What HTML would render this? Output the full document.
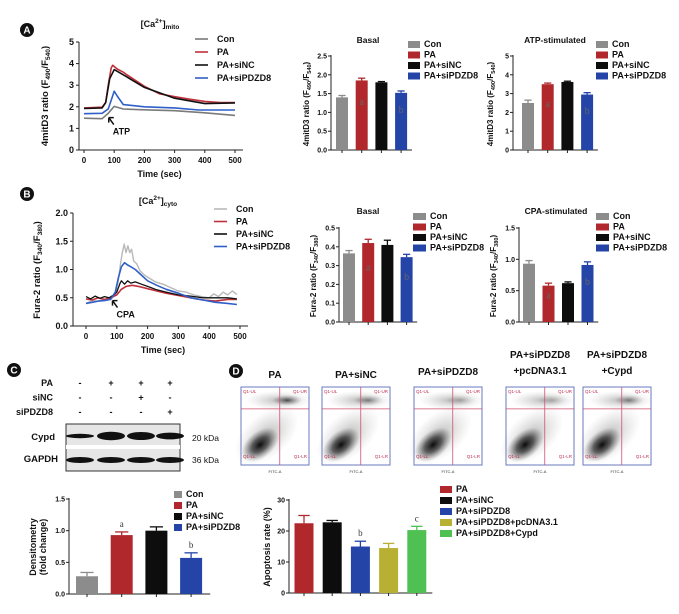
<!DOCTYPE html>
<html><head><meta charset="utf-8"><style>
html,body{margin:0;padding:0;background:#fff;}
svg{display:block;font-family:"Liberation Sans",Arial,sans-serif;}
</style></head><body>
<svg id="fig" width="679" height="614" viewBox="0 0 679 614" xmlns="http://www.w3.org/2000/svg">
<defs>
<radialGradient id="dens" cx="50%" cy="50%" r="50%"><stop offset="0" stop-color="#000" stop-opacity="0.95"/><stop offset="0.45" stop-color="#222" stop-opacity="0.7"/><stop offset="1" stop-color="#666" stop-opacity="0"/></radialGradient>
<radialGradient id="dens2" cx="50%" cy="50%" r="50%"><stop offset="0" stop-color="#111" stop-opacity="0.8"/><stop offset="1" stop-color="#777" stop-opacity="0"/></radialGradient>
<radialGradient id="dens3" cx="50%" cy="50%" r="50%"><stop offset="0" stop-color="#777" stop-opacity="0.5"/><stop offset="1" stop-color="#aaa" stop-opacity="0"/></radialGradient>
</defs>
</svg>
<script>
// ---------- data ----------
var groups4 = ['Con','PA','PA+siNC','PA+siPDZD8'];
var groups5 = ['PA','PA+siNC','PA+siPDZD8','PA+siPDZD8+pcDNA3.1','PA+siPDZD8+Cypd'];
var mitoBasal = [1.40,1.85,1.80,1.52];
var mitoBasalErr = [0.05,0.06,0.02,0.05];
var mitoAtp = [2.50,3.50,3.62,2.95];
var mitoAtpErr = [0.15,0.06,0.04,0.10];
var cytoBasal = [0.365,0.42,0.41,0.345];
var cytoBasalErr = [0.015,0.02,0.025,0.015];
var cytoCpa = [0.93,0.58,0.62,0.91];
var cytoCpaErr = [0.05,0.04,0.02,0.05];
var densValues = [0.28,0.93,1.00,0.57];
var densErr = [0.06,0.05,0.06,0.08];
var apopValues = [22.5,22.8,15.0,14.5,20.3];
var apopErr = [2.5,0.6,1.7,1.5,1.2];
var timeTicks = [0,100,200,300,400,500];
var mitoTicks = [0,1,2,3,4,5];
var cytoTicks = [0.0,0.5,1.0,1.5,2.0];
var mitoConT=[0,60,80,100,130,200,300,400,500];
var mitoConV=[1.47,1.45,1.7,2.02,1.9,1.86,1.82,1.72,1.6];
var mitoPaT=[0,60,72,80,90,95,110,130,140,200,250,300,350,400,450,500];
var mitoPaV=[1.95,1.98,2.2,3.0,3.8,3.92,3.75,3.6,3.5,2.95,2.6,2.47,2.35,2.25,2.2,2.2];
var mitoNcT=[0,60,72,85,100,140,200,300,400,500];
var mitoNcV=[1.92,1.95,2.2,3.3,3.72,3.4,2.9,2.4,2.15,2.18];
var mitoPdT=[0,60,80,90,100,110,130,200,300,380,500];
var mitoPdV=[1.68,1.7,1.9,2.3,2.72,2.5,2.1,2.0,1.95,1.85,1.85];
var cytoConT=[0,20,40,60,80,95,105,112,118,124,130,136,142,148,155,165,175,190,205,225,250,275,300,325,350,375,400,415,430,445,460,475,490];
var cytoConV=[0.40,0.45,0.44,0.47,0.47,0.55,0.8,1.1,1.3,1.45,1.3,1.42,1.3,1.36,1.15,1.1,0.98,0.9,0.85,0.78,0.74,0.68,0.62,0.6,0.55,0.52,0.50,0.57,0.52,0.6,0.55,0.62,0.56];
var cytoPaT=[0,20,40,60,80,100,115,130,150,170,200,230,260,300,340,380,420,460,490];
var cytoPaV=[0.48,0.46,0.50,0.47,0.50,0.55,0.65,0.70,0.72,0.70,0.66,0.62,0.58,0.54,0.5,0.46,0.44,0.47,0.47];
var cytoNcT=[0,15,30,45,60,75,90,100,110,115,125,135,145,160,180,200,230,260,300,340,380,420,460,490];
var cytoNcV=[0.52,0.48,0.53,0.49,0.52,0.5,0.55,0.6,0.75,0.8,0.74,0.8,0.76,0.78,0.74,0.7,0.64,0.6,0.55,0.53,0.5,0.5,0.5,0.48];
var cytoPdT=[0,20,40,60,80,95,105,115,125,135,145,160,180,200,230,260,300,340,380,420,460,490];
var cytoPdV=[0.40,0.42,0.44,0.45,0.47,0.6,0.85,1.05,1.12,1.08,1.05,1.0,0.9,0.8,0.72,0.65,0.58,0.5,0.46,0.42,0.4,0.38];
var colors4 = ['#8c8c8c','#b0282c','#0d0d0d','#2444a8'];
var colors5 = ['#b0282c','#0d0d0d','#2444a8','#b8b032','#4fc052'];

var svg = document.getElementById('fig');
var NS = 'http://www.w3.org/2000/svg';
function mk(tag, attrs, parent){
  var e = document.createElementNS(NS, tag);
  for (var k in attrs) e.setAttribute(k, attrs[k]);
  (parent||svg).appendChild(e);
  return e;
}
function txt(x,y,s,size,anchor,parent,weight,color){
  var t = mk('text',{x:x,y:y,'font-size':size,'text-anchor':anchor||'middle','font-weight':weight||'bold',fill:color||'#111'},parent);
  t.textContent = s;
  return t;
}
function panelBadge(x,y,letter){
  var g = mk('g',{});
  
  
  mk('circle',{cx:x,cy:y,r:7,fill:'#111'},g);
  txt(x,y+3.5,letter,10,'middle',g,'bold','#fff');
}

// ---------- bar chart ----------
function barChart(cfg){
  var g = mk('g',{});
  
  
  var ys = function(v){return cfg.y0 - v/cfg.max*(cfg.y0-cfg.yTop);};
  var xr = cfg.first + (cfg.values.length-1)*cfg.step + cfg.step*0.55;
  mk('line',{x1:cfg.ax,y1:cfg.yTop-1,x2:cfg.ax,y2:cfg.y0,stroke:'#222','stroke-width':1},g);
  mk('line',{x1:cfg.ax,y1:cfg.y0,x2:xr,y2:cfg.y0,stroke:'#222','stroke-width':1},g);
  cfg.ticks.forEach(function(t){
    mk('line',{x1:cfg.ax-3,y1:ys(t),x2:cfg.ax,y2:ys(t),stroke:'#222'},g);
    var l = txt(cfg.ax-4,ys(t)+2.5,cfg.tickFmt(t),7,'end',g);
    
  });
  cfg.values.forEach(function(v,i){
    var cx = cfg.first + i*cfg.step;
    mk('line',{x1:cx,y1:cfg.y0,x2:cx,y2:cfg.y0+3,stroke:'#222'},g);
    var eTop = ys(v+cfg.errs[i]);
    var eb = mk('g',{},g);
    
    mk('line',{x1:cx,y1:ys(v),x2:cx,y2:eTop,stroke:cfg.colors[i],'stroke-width':1.3},eb);
    mk('line',{x1:cx-cfg.w*0.3,y1:eTop,x2:cx+cfg.w*0.3,y2:eTop,stroke:cfg.colors[i],'stroke-width':1.3},eb);
    var r = mk('rect',{x:cx-cfg.w/2,y:ys(v),width:cfg.w,height:cfg.y0-ys(v),fill:cfg.colors[i]},g);
    
    
    if (cfg.letters && cfg.letters[i]) {
      var inside = cfg.letterInside;
      var lt = mk('text',{x:cx,y:inside? ys(v)+ (cfg.y0-ys(v))*0.35 : eTop-5,'font-size':inside?10:9,'text-anchor':'middle','font-family':'Liberation Serif, serif',fill:inside?'#666':'#333'},g);
      lt.textContent = cfg.letters[i];
      
    }
  });
  if (cfg.title){ var tt = txt(cfg.titleX,cfg.titleY,cfg.title,8.5,'middle',g);  }
  if (cfg.ylabel) cfg.ylabel(g);
  var lg = mk('g',{},g);
  
  cfg.labels.forEach(function(lab,i){
    var y = cfg.legY + i*cfg.legStep;
    var e = mk('g',{},lg);
    
    
    mk('rect',{x:cfg.legX,y:y-6,width:cfg.legSq,height:7,fill:cfg.colors[i]},e);
    txt(cfg.legX+cfg.legSq+4,y,lab,cfg.legFont||9,'start',e);
  });
}

// ---------- line chart ----------
function lineChart(cfg){
  var g = mk('g',{});
  
  
  var xs = function(t){return cfg.x0 + t/500*(cfg.x5-cfg.x0);};
  var ys = function(v){return cfg.y0 - v/cfg.max*(cfg.y0-cfg.yTop);};
  mk('line',{x1:cfg.ax,y1:cfg.yTop,x2:cfg.ax,y2:cfg.y0,stroke:'#222'},g);
  mk('line',{x1:cfg.ax,y1:cfg.y0,x2:cfg.x5+8,y2:cfg.y0,stroke:'#222'},g);
  cfg.yticks.forEach(function(t){
    mk('line',{x1:cfg.ax-3,y1:ys(t),x2:cfg.ax,y2:ys(t),stroke:'#222'},g);
    var l = txt(cfg.ax-5,ys(t)+3,cfg.fmt(t),9,'end',g);
    
  });
  timeTicks.forEach(function(t){
    mk('line',{x1:xs(t),y1:cfg.y0,x2:xs(t),y2:cfg.y0+3,stroke:'#222'},g);
    var l = txt(xs(t),cfg.y0+13,String(t),8,'middle',g);
    
  });
  var xt = txt((cfg.x0+cfg.x5)/2,cfg.y0+27,'Time (sec)',9,'middle',g);
  
  cfg.series.forEach(function(s){
    var d = s.t.map(function(t,i){return (i?'L':'M')+xs(t).toFixed(1)+','+ys(s.v[i]).toFixed(1);}).join('');
    var p = mk('path',{d:d,fill:'none',stroke:s.c,'stroke-width':s.w||1.6,'stroke-linejoin':'round'},g);
    
    
  });
  var ag = mk('g',{},g);
  
  var ax = xs(cfg.arrowT), ay = ys(cfg.arrowV);
  mk('path',{d:'M'+ax+','+ay+' l5,7 M'+ax+','+ay+' l0,5 M'+ax+','+ay+' l5,0',stroke:'#111','stroke-width':1.5,fill:'none'},ag);
  txt(ax+4,ay+17,cfg.arrowLabel,9,'start',ag);
  var lg = mk('g',{},g);
  
  cfg.series.forEach(function(s,i){
    var y = cfg.legY + i*cfg.legStep;
    var e = mk('g',{},lg);
    
    
    mk('line',{x1:cfg.legX,y1:y-3,x2:cfg.legX+13,y2:y-3,stroke:s.c,'stroke-width':1.6},e);
    txt(cfg.legX+22,y,groups4[i],9,'start',e);
  });
  var tt = mk('text',{x:cfg.titleX,y:cfg.titleY,'font-size':9,'text-anchor':'middle','font-weight':'bold',fill:'#111'},g);
  
  var a1=mk('tspan',{},tt);a1.textContent='[Ca';
  var a2=mk('tspan',{dy:-4,'font-size':6.5},tt);a2.textContent='2+';
  var a3=mk('tspan',{dy:4},tt);a3.textContent=']';
  var a4=mk('tspan',{dy:2,'font-size':6.5},tt);a4.textContent=cfg.sub;
  cfg.ylabel(g);
}
function ylab(g,x,y,pre,a,b,size){
  var t = mk('text',{transform:'translate('+x+','+y+') rotate(-90)','font-size':size||9.5,'text-anchor':'middle','font-weight':'bold',fill:'#111'},g);
  
  var s1=mk('tspan',{},t);s1.textContent=pre+'(F';
  var s2=mk('tspan',{dy:2,'font-size':(size||9.5)*0.7},t);s2.textContent=a;
  var s3=mk('tspan',{dy:-2},t);s3.textContent='/F';
  var s4=mk('tspan',{dy:2,'font-size':(size||9.5)*0.7},t);s4.textContent=b;
  var s5=mk('tspan',{dy:-2},t);s5.textContent=')';
}

// ---------- Panel A ----------
panelBadge(27,30,'A');
lineChart({name:'mito-calcium-trace',ax:79,x0:84,x5:235,y0:150,yTop:42,max:5,yticks:mitoTicks,fmt:function(t){return String(t);},
  series:[{n:'con',t:mitoConT,v:mitoConV,c:'#7a7a7a'},{n:'pa',t:mitoPaT,v:mitoPaV,c:'#c0303a'},{n:'pa-sinc',t:mitoNcT,v:mitoNcV,c:'#111'},{n:'pa-sipdzd8',t:mitoPdT,v:mitoPdV,c:'#2f5fc8'}],
  arrowT:82,arrowV:1.5,arrowLabel:'ATP',legX:195,legY:42,legStep:13,titleX:160,titleY:27,sub:'mito',
  ylabel:function(g){ylab(g,48,96,'4mitD3 ratio ','490','540',9.5);}});
barChart({name:'mito-basal-bar-chart',ax:331,y0:150,yTop:56,max:2.5,ticks:[0,0.5,1,1.5,2,2.5],tickFmt:function(t){return t.toFixed(1);},
  first:342,step:19.7,w:12,values:mitoBasal,errs:mitoBasalErr,colors:colors4,labels:groups4,letters:['','a','','b'],letterInside:true,
  title:'Basal',titleX:368,titleY:43,legX:408,legY:47,legStep:10.5,legSq:12,
  ylabel:function(g){ylab(g,309,104,'4mitD3 ratio ','490','540',8);}});
barChart({name:'mito-atp-bar-chart',ax:513,y0:150,yTop:56,max:5,ticks:[0,1,2,3,4,5],tickFmt:function(t){return String(t);},
  first:528,step:19.7,w:12,values:mitoAtp,errs:mitoAtpErr,colors:colors4,labels:groups4,letters:['','a','','b'],letterInside:true,
  title:'ATP-stimulated',titleX:555,titleY:43,legX:596,legY:47,legStep:10.5,legSq:12,
  ylabel:function(g){ylab(g,493,104,'4mitD3 ratio ','490','540',8);}});

// ---------- Panel B ----------
panelBadge(27,194,'B');
lineChart({name:'cyto-calcium-trace',ax:73,x0:86,x5:240,y0:326,yTop:213,max:2.0,yticks:cytoTicks,fmt:function(t){return t.toFixed(1);},
  series:[{n:'con',t:cytoConT,v:cytoConV,c:'#b9b9b9',w:1.4},{n:'pa',t:cytoPaT,v:cytoPaV,c:'#c0303a'},{n:'pa-sinc',t:cytoNcT,v:cytoNcV,c:'#111',w:1.3},{n:'pa-sipdzd8',t:cytoPdT,v:cytoPdV,c:'#2f5fc8'}],
  arrowT:86,arrowV:0.45,arrowLabel:'CPA',legX:214,legY:212,legStep:12.5,titleX:158,titleY:204,sub:'cyto',
  ylabel:function(g){ylab(g,40,270,'Fura-2 ratio ','340','380',9.5);}});
barChart({name:'cyto-basal-bar-chart',ax:339,y0:322,yTop:228,max:0.5,ticks:[0,0.1,0.2,0.3,0.4,0.5],tickFmt:function(t){return t.toFixed(1);},
  first:349,step:19.2,w:12,values:cytoBasal,errs:cytoBasalErr,colors:colors4,labels:groups4,letters:['','a','','b'],letterInside:true,
  title:'Basal',titleX:368,titleY:214,legX:413,legY:219,legStep:10.5,legSq:13,
  ylabel:function(g){ylab(g,316,276,'Fura-2 ratio ','340','380',8);}});
barChart({name:'cyto-cpa-bar-chart',ax:519,y0:322,yTop:228,max:1.5,ticks:[0,0.5,1.0,1.5],tickFmt:function(t){return t.toFixed(1);},
  first:529,step:19.5,w:12,values:cytoCpa,errs:cytoCpaErr,colors:colors4,labels:groups4,letters:['','a','','b'],letterInside:true,
  title:'CPA-stimulated',titleX:556,titleY:214,legX:596,legY:219,legStep:10.5,legSq:13,
  ylabel:function(g){ylab(g,496,276,'Fura-2 ratio ','340','380',8);}});

// ---------- Panel C ----------
panelBadge(14,370,'C');
(function(){
  var g = mk('g',{});
  
  
  var rows = [['PA',['-','+','+','+']],['siNC',['-','-','+','-']],['siPDZD8',['-','-','-','+']]];
  var cols = [80,111,141,170];
  rows.forEach(function(r,ri){
    var y = 386 + ri*14.5;
    var l = txt(53,y,r[0],9,'end',g);
    
    r[1].forEach(function(s,ci){ txt(cols[ci],y,s,9,'middle',g); });
  });
  mk('rect',{x:66,y:424,width:114,height:47,fill:'#e6e6e6',stroke:'#333','stroke-width':1},g);
  mk('rect',{x:66,y:445,width:114,height:4,fill:'#fff'},g);
  var cyp = [[80,2.2],[111,4.2],[141,4],[170,3.4]];
  cyp.forEach(function(b){ mk('ellipse',{cx:b[0],cy:436,rx:14,ry:b[1],fill:'#111'},g); });
  cols.forEach(function(c){ mk('ellipse',{cx:c,cy:460,rx:14,ry:3,fill:'#111'},g); });
  var c1 = txt(55,440,'Cypd',9.5,'end',g); 
  var c2 = txt(58,462,'GAPDH',9.5,'end',g); 
  txt(192,441,'20 kDa',8.5,'start',g,'normal');
  txt(192,463,'36 kDa',8.5,'start',g,'normal');
})();
barChart({name:'densitometry-bar-chart',ax:69,y0:594,yTop:499,max:1.5,ticks:[0,0.5,1.0,1.5],tickFmt:function(t){return t.toFixed(1);},
  first:87,step:34.7,w:22,values:densValues,errs:densErr,colors:colors4,labels:groups4,letters:['','a','','b'],letterInside:false,
  legX:174,legY:497,legStep:11,legSq:8,
  ylabel:function(g){
    var t = mk('text',{transform:'translate(38,547) rotate(-90)','font-size':9,'text-anchor':'middle','font-weight':'bold',fill:'#111'},g);
    
    var a=mk('tspan',{x:0,dy:-2},t);a.textContent='Densitometry';
    var b=mk('tspan',{x:0,dy:10},t);b.textContent='(fold change)';
  }});

// ---------- Panel D ----------
panelBadge(236,371,'D');
var flowTitles = [['PA'],['PA+siNC'],['PA+siPDZD8'],['PA+siPDZD8','+pcDNA3.1'],['PA+siPDZD8','+Cypd']];
var flowX = [241,322,414,506,583];
var flowUR = [0.9,0.6,0.35,0.3,0.6];
flowTitles.forEach(function(tl,i){
  var g = mk('g',{});
  
  
  var x=flowX[i], y=387, w=68, h=78;
  if (tl.length===1) txt(x+w/2, i===2?375:378, tl[0], 10,'middle',g);
  else { txt(x+w/2,358,tl[0],10,'middle',g); txt(x+w/2,374,tl[1],10,'middle',g); }
  mk('rect',{x:x,y:y,width:w,height:h,fill:'#fff'},g);
  mk('ellipse',{cx:x+w*0.38,cy:y+h*0.62,rx:w*0.55,ry:h*0.28,fill:'url(#dens3)',transform:'rotate(-40 '+(x+w*0.38)+' '+(y+h*0.62)+')'},g);
  mk('ellipse',{cx:x+w*0.28,cy:y+h*0.74,rx:w*0.32,ry:h*0.17,fill:'url(#dens)',transform:'rotate(-40 '+(x+w*0.28)+' '+(y+h*0.74)+')'},g);
  mk('ellipse',{cx:x+w*0.55,cy:y+h*0.17,rx:w*0.48,ry:h*0.12,fill:'url(#dens3)'},g);
  mk('ellipse',{cx:x+w*0.68,cy:y+h*0.17,rx:w*0.22,ry:h*0.07,fill:'url(#dens2)','fill-opacity':flowUR[i]},g);
  mk('rect',{x:x,y:y,width:w,height:h,fill:'none',stroke:'#6a78c0','stroke-width':1},g);
  mk('line',{x1:x+w*0.57,y1:y,x2:x+w*0.57,y2:y+h,stroke:'#d05070','stroke-width':0.8},g);
  mk('line',{x1:x,y1:y+h*0.28,x2:x+w,y2:y+h*0.28,stroke:'#d05070','stroke-width':0.8},g);
  txt(x+2,y+6,'Q1-UL',4.5,'start',g,'normal','#c03050');
  txt(x+w-2,y+6,'Q1-UR',4.5,'end',g,'normal','#c03050');
  txt(x+2,y+h-7,'Q1-LL',4.5,'start',g,'normal','#c03050');
  txt(x+w-2,y+h-7,'Q1-LR',4.5,'end',g,'normal','#c03050');
  txt(x+w/2,y+h+8,'FITC-A',4,'middle',g,'normal','#333');
});
barChart({name:'apoptosis-bar-chart',ax:289,y0:593,yTop:500,max:30,ticks:[0,10,20,30],tickFmt:function(t){return String(t);},
  first:304,step:28.2,w:19,values:apopValues,errs:apopErr,colors:colors5,labels:groups5,letters:['','','b','','c'],letterInside:false,
  legX:440,legY:492,legStep:11,legSq:12,
  ylabel:function(g){
    var t = mk('text',{transform:'translate(270,547) rotate(-90)','font-size':9,'text-anchor':'middle','font-weight':'bold',fill:'#111'},g);
    
    t.textContent='Apoptosis rate (%)';
  }});
</script>
</body></html>
